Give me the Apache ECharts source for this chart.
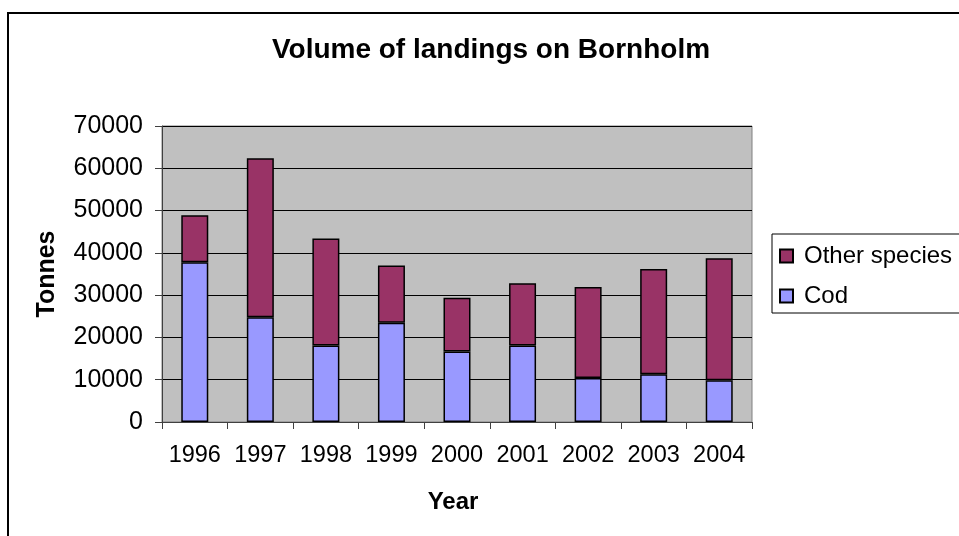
<!DOCTYPE html>
<html>
<head>
<meta charset="utf-8">
<script src="https://cdn.jsdelivr.net/npm/echarts@6/dist/echarts.min.js"></script>
<style>
html,body{margin:0;padding:0;background:#fff;}
#chart{width:959px;height:536px;}
</style>
</head>
<body>
<div id="chart"></div>
<script>
const years = ['1996','1997','1998','1999','2000','2001','2002','2003','2004'];
const cod = [37800, 24800, 18100, 23500, 16700, 18100, 10400, 11300, 9900];
const otherSpecies = [11100, 37600, 25300, 13500, 12700, 14700, 21500, 24900, 28800];
const yTicks = [0, 10000, 20000, 30000, 40000, 50000, 60000, 70000];

const chart = echarts.init(document.getElementById('chart'));
const font = 'Liberation Sans, Arial, sans-serif';
chart.setOption({
  animation: false,
  backgroundColor: '#ffffff',
  textStyle: { fontFamily: font },
  grid: {
    left: 162, right: 207, top: 126, bottom: 114,
    show: true, backgroundColor: '#c0c0c0', borderColor: '#808080', borderWidth: 1
  },
  legend: {
    orient: 'vertical',
    left: 779, top: 244,
    padding: 0,
    itemWidth: 13, itemHeight: 13, itemGap: 16,
    icon: 'rect',
    data: ['Other species', 'Cod'],
    textStyle: { fontFamily: font, fontSize: 24, color: '#000', padding: [0, 0, 0, 6] }
  },
  xAxis: {
    type: 'category',
    data: years,
    boundaryGap: true,
    axisLine: { lineStyle: { color: '#404040', width: 1 } },
    axisTick: { show: true, length: 7, inside: false, interval: 0, lineStyle: { color: '#404040' } },
    axisLabel: { fontFamily: font, fontSize: 23.5, color: '#000', margin: 22, interval: 0, hideOverlap: false },
    splitLine: { show: false }
  },
  yAxis: {
    type: 'value',
    min: yTicks[0], max: yTicks[yTicks.length - 1], interval: 10000,
    axisLine: { show: true, lineStyle: { color: '#404040', width: 1 } },
    axisTick: { show: true, length: 7, lineStyle: { color: '#404040' } },
    axisLabel: { fontFamily: font, fontSize: 25, color: '#000', margin: 19,
                 formatter: function (v) { return String(v); } },
    splitLine: { show: true, lineStyle: { color: '#000', width: 1 } }
  },
  series: [
    {
      name: 'Cod', type: 'bar', stack: 'total', data: cod, barWidth: 27,
      itemStyle: { color: '#9999ff', borderColor: '#000', borderWidth: 1.5 }
    },
    {
      name: 'Other species', type: 'bar', stack: 'total', data: otherSpecies, barWidth: 27,
      itemStyle: { color: '#993366', borderColor: '#000', borderWidth: 1.5 }
    }
  ],
  graphic: [
    { type: 'rect', silent: true, z: -1,
      shape: { x: 8, y: 13, width: 980, height: 560 },
      style: { fill: null, stroke: '#000', lineWidth: 2 } },
    { type: 'rect', silent: true,
      shape: { x: 772, y: 234, width: 220, height: 79 },
      style: { fill: null, stroke: '#000', lineWidth: 1 } },
    { type: 'text', silent: true, x: 491, y: 50,
      style: { text: 'Volume of landings on Bornholm', font: 'bold 28px ' + font,
               fill: '#000', align: 'center', verticalAlign: 'middle' } },
    { type: 'text', silent: true, x: 47, y: 274, rotation: Math.PI / 2,
      style: { text: 'Tonnes', font: 'bold 25px ' + font,
               fill: '#000', align: 'center', verticalAlign: 'middle' } },
    { type: 'text', silent: true, x: 453, y: 502,
      style: { text: 'Year', font: 'bold 24px ' + font,
               fill: '#000', align: 'center', verticalAlign: 'middle' } }
  ]
});
</script>
</body>
</html>
